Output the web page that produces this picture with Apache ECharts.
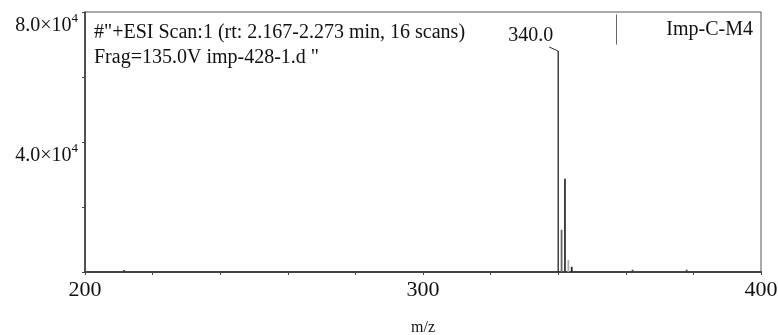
<!DOCTYPE html>
<html>
<head>
<meta charset="utf-8">
<script src="https://cdn.jsdelivr.net/npm/echarts@6/dist/echarts.min.js"></script>
<style>html,body{margin:0;padding:0;background:#fff}#c{width:778px;height:335px}</style>
</head>
<body>
<div id="c"></div>
<script>
// ---- data ----
const mzValues = [211.6, 340.0, 341.0, 342.0, 343.0, 344.0, 362.0, 378.0];
const intensities = [600, 68000, 13000, 28700, 3700, 1600, 700, 700];
const labeledPeaks = [340.0];
const xTickLabels = [200, 300, 400];
const yTickLabels = [40000, 80000];
const headerLines = ['#"+ESI Scan:1 (rt: 2.167-2.273 min, 16 scans)', 'Frag=135.0V imp-428-1.d "'];
const legendName = 'Imp-C-M4';
const xAxisTitle = 'm/z';

// ---- styles ----
const peakColors = ['#333', '#222', '#666', '#333', '#aaa', '#222', '#444', '#444'];
const FONT = '"Liberation Serif", "DejaVu Serif", serif';

const chart = echarts.init(document.getElementById('c'), null, {renderer: 'canvas'});
const data = mzValues.map((m, i) => [m, intensities[i]]);

chart.setOption({
  animation: false,
  backgroundColor: '#fff',
  textStyle: {fontFamily: FONT},
  title: [{
    text: headerLines.join('\n'),
    left: 89, top: 15,
    textStyle: {fontFamily: FONT, fontSize: 20, fontWeight: 'normal', color: '#111', lineHeight: 25}
  }, {
    text: legendName,
    right: 20, top: 15,
    textStyle: {fontFamily: FONT, fontSize: 20, fontWeight: 'normal', color: '#111'}
  }],
  graphic: [{
    type: 'line', left: 614, top: 12,
    shape: {x1: 0, y1: 0, x2: 0, y2: 30},
    style: {stroke: '#666', lineWidth: 1}
  }],
  grid: {
    left: 85, right: 17, top: 12, bottom: 63,
    containLabel: false, outerBoundsMode: 'none',
    show: true, borderColor: '#555', borderWidth: 1
  },
  xAxis: {
    type: 'value', min: 200, max: 400, interval: 20,
    name: xAxisTitle, nameLocation: 'middle', nameGap: 48,
    nameTextStyle: {fontFamily: FONT, fontSize: 16, color: '#111'},
    axisLine: {show: true, lineStyle: {color: '#444', width: 2}},
    axisTick: {show: true, length: 3, lineStyle: {color: '#444', width: 1}},
    splitLine: {show: false},
    axisLabel: {
      fontFamily: FONT, fontSize: 22, color: '#111', margin: 7,
      formatter: v => xTickLabels.indexOf(v) >= 0 ? String(v) : ''
    }
  },
  yAxis: {
    type: 'value', min: 0, max: 80000, interval: 20000,
    axisLine: {show: true, lineStyle: {color: '#333', width: 1.5}},
    axisTick: {show: true, length: 3, lineStyle: {color: '#444', width: 1}},
    splitLine: {show: false},
    axisLabel: {
      margin: 7, verticalAlign: 'top', color: '#111',
      formatter: v => {
        if (yTickLabels.indexOf(v) < 0) return '';
        const e = Math.floor(Math.log10(v));
        const m = (v / Math.pow(10, e)).toFixed(1);
        return '{b|' + m + '×10}{s|' + e + '}';
      },
      rich: {
        b: {fontFamily: FONT, fontSize: 20, color: '#111', padding: [4, 0, 0, 0]},
        s: {fontFamily: FONT, fontSize: 13, color: '#111', verticalAlign: 'top', padding: [0, 0, 10, 0]}
      }
    }
  },
  series: [{
    type: 'custom',
    data: data,
    renderItem: function (params, api) {
      const x = api.value(0), y = api.value(1);
      const p0 = api.coord([x, 0]);
      const p1 = api.coord([x, y]);
      const children = [{
        type: 'line',
        shape: {x1: p0[0], y1: p0[1], x2: p1[0], y2: p1[1]},
        style: {stroke: peakColors[params.dataIndex], lineWidth: y > 50000 ? 1.3 : 1.8}
      }];
      if (labeledPeaks.indexOf(x) >= 0) {
        children.push({
          type: 'polyline',
          shape: {points: [[p1[0], p1[1]], [p1[0] - 9, p1[1] - 4]]},
          style: {stroke: '#333', lineWidth: 1, fill: null}
        });
        children.push({
          type: 'text',
          x: p1[0] - 5, y: p1[1] - 5,
          style: {text: x.toFixed(1), font: '20px ' + FONT, fill: '#111', align: 'right', verticalAlign: 'bottom'}
        });
      }
      return {type: 'group', children: children};
    }
  }]
});
</script>
</body>
</html>
